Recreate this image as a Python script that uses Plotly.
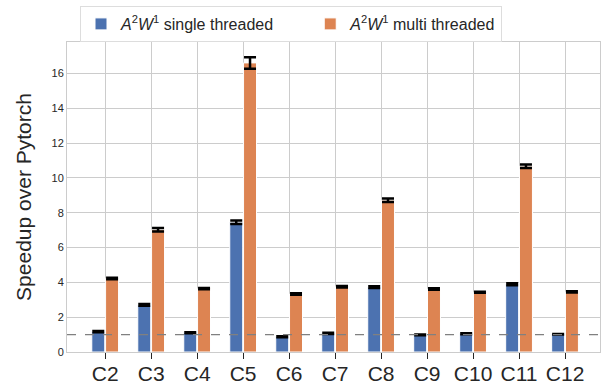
import plotly.graph_objects as go

categories = ["C2", "C3", "C4", "C5", "C6", "C7", "C8", "C9", "C10", "C11", "C12"]
single = [1.17, 2.70, 1.11, 7.45, 0.88, 1.07, 3.72, 0.98, 1.05, 3.89, 1.02]
single_err = [0.03, 0.05, 0.03, 0.10, 0.03, 0.03, 0.05, 0.02, 0.03, 0.06, 0.02]
multi = [4.22, 7.02, 3.64, 16.6, 3.33, 3.75, 8.72, 3.62, 3.43, 10.67, 3.45]
multi_err = [0.04, 0.10, 0.04, 0.33, 0.04, 0.04, 0.10, 0.04, 0.03, 0.10, 0.04]
names = ["<i>A</i><sup>2</sup><i>W</i><sup>1</sup> single threaded" + "&nbsp;" * 7,
         "<i>A</i><sup>2</sup><i>W</i><sup>1</sup> multi threaded"]

blue = "#4C72B0"
orange = "#DD8452"

fig = go.Figure()
fig.add_trace(go.Bar(
    x=categories, y=single, name=names[0],
    marker=dict(color=blue, line=dict(color="white", width=1)),
    error_y=dict(type="data", array=single_err, color="black", thickness=2.5, width=6),
))
fig.add_trace(go.Bar(
    x=categories, y=multi, name=names[1],
    marker=dict(color=orange, line=dict(color="white", width=1)),
    error_y=dict(type="data", array=multi_err, color="black", thickness=2.5, width=6),
))

fig.add_hline(y=1, line=dict(color="gray", width=1.2, dash="dash"))

fig.update_layout(
    width=602, height=383,
    margin=dict(l=67, r=2, t=42, b=31, autoexpand=False),
    paper_bgcolor="white", plot_bgcolor="white",
    barmode="group", bargap=0.4, bargroupgap=0.06,
    font=dict(family="Liberation Sans, Arial, sans-serif", color="#262626"),
    showlegend=True,
    legend=dict(
        orientation="h", xref="container", yref="container",
        x=80 / 602, xanchor="left", y=1 - 6 / 383, yanchor="top",
        bgcolor="white", bordercolor="#dddddd", borderwidth=1,
        font=dict(size=16),
    ),
)
fig.update_xaxes(
    range=[-0.83, 10.76], automargin=False,
    showgrid=True, gridcolor="#cccccc", gridwidth=1,
    showline=True, linecolor="#cccccc", linewidth=1, mirror=True,
    ticks="outside", ticklen=6, tickcolor="#262626", tickwidth=1,
    ticklabelstandoff=-3,
    tickfont=dict(size=21, color="#262626"),
)
fig.update_yaxes(
    range=[0, 17.8], automargin=False,
    tickvals=[0, 2, 4, 6, 8, 10, 12, 14, 16],
    showgrid=True, gridcolor="#cccccc", gridwidth=1,
    showline=True, linecolor="#cccccc", linewidth=1, mirror=True,
    zeroline=False,
    tickfont=dict(size=11, color="#262626"),
    title=dict(text="Speedup over Pytorch", font=dict(size=21, color="#262626"), standoff=14),
)

fig.write_html(
    "out.html",
    config={"displayModeBar": False},
    post_script="document.body.style.margin='0';document.body.style.overflow='hidden';",
)
